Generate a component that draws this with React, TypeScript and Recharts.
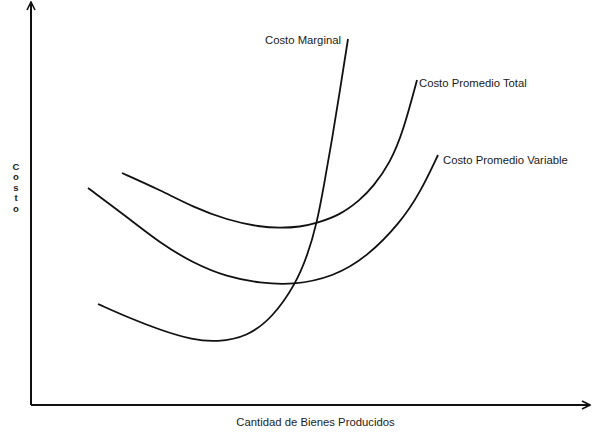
import React from 'react';
import { LineChart, Line, XAxis, YAxis, LabelList } from 'recharts';

// Conceptual cost curves (quantity vs cost, arbitrary units)
const marginalCost = [
  { x: 67, y: 101 }, { x: 96, y: 88 }, { x: 129, y: 75 }, { x: 162, y: 65 },
  { x: 186, y: 63 }, { x: 216, y: 68 }, { x: 242, y: 88 }, { x: 264, y: 120 },
  { x: 276, y: 148 }, { x: 286, y: 182 }, { x: 293, y: 220 }, { x: 301, y: 265 },
  { x: 309, y: 315 }, { x: 317, y: 366 },
];
const avgTotalCost = [
  { x: 91, y: 232 }, { x: 129, y: 215 }, { x: 162, y: 198 }, { x: 196, y: 185 },
  { x: 229, y: 178 }, { x: 249, y: 177 }, { x: 269, y: 178 }, { x: 286, y: 182 },
  { x: 309, y: 190 }, { x: 329, y: 205 }, { x: 342, y: 218 }, { x: 359, y: 242 },
  { x: 372, y: 273 }, { x: 386, y: 325 },
];
const avgVariableCost = [
  { x: 57, y: 217 }, { x: 96, y: 188 }, { x: 129, y: 162 }, { x: 162, y: 142 },
  { x: 196, y: 128 }, { x: 229, y: 122 }, { x: 262, y: 120 }, { x: 302, y: 128 },
  { x: 336, y: 148 }, { x: 369, y: 182 }, { x: 389, y: 212 }, { x: 407, y: 250 },
];

const series = [
  { name: 'Costo Marginal', data: marginalCost, anchor: 'end', dx: -7, dy: 5 },
  { name: 'Costo Promedio Total', data: avgTotalCost, anchor: 'start', dx: 2, dy: 7 },
  { name: 'Costo Promedio Variable', data: avgVariableCost, anchor: 'start', dx: 5, dy: 9 },
];

const yTitle = 'Costo';
const xTitle = 'Cantidad de Bienes Producidos';
const font = '"Liberation Sans", Arial, sans-serif';

const endLabel = (s: typeof series[number]) => (props: any) => {
  if (props.index !== s.data.length - 1) return null;
  return (
    <text x={props.x + s.dx} y={props.y + s.dy} textAnchor={s.anchor as any}
      fontFamily={font} fontSize={11.3} fill="#1a1a1a">
      {s.name}
    </text>
  );
};

export default function App() {
  return (
    <div style={{ position: 'absolute', left: 0, top: 0, background: '#fff' }}>
      <LineChart width={593} height={440} margin={{ top: 2, right: 3, left: 30, bottom: 34 }}>
        <defs>
          <marker id="arrow" viewBox="0 0 10 10" refX="9" refY="5" markerWidth="5" markerHeight="5"
            orient="auto-start-reverse" markerUnits="strokeWidth">
            <path d="M1,1 L9,5 L1,9" fill="none" stroke="#111" strokeWidth={1.6} />
          </marker>
        </defs>
        <XAxis type="number" dataKey="x" domain={[0, 559]} ticks={[]} tick={false} tickLine={false} height={1}
          axisLine={{ stroke: '#111', strokeWidth: 2, markerEnd: 'url(#arrow)' }}
          label={{ value: xTitle, position: 'bottom', offset: 12, dx: 5, fontSize: 11.3, fontFamily: font, fill: '#222' }} />
        <YAxis type="number" dataKey="y" domain={[0, 403]} ticks={[]} tick={false} tickLine={false} width={1}
          axisLine={{ stroke: '#111', strokeWidth: 2, markerStart: 'url(#arrow)' }}
          label={{
            content: () => (
              <g>
                {yTitle.split('').map((ch, i) => (
                  <text key={i} x={16} y={170 + i * 10.4} textAnchor="middle" fontFamily={font}
                    fontSize={9.5} fontWeight="bold" fill="#222">{ch}</text>
                ))}
              </g>
            ),
          }} />
        {series.map((s) => (
          <Line key={s.name} data={s.data} dataKey="y" type="basis" stroke="#111" strokeWidth={1.8}
            dot={false} activeDot={false} isAnimationActive={false}>
            <LabelList dataKey="y" content={endLabel(s)} />
          </Line>
        ))}
      </LineChart>
    </div>
  );
}
